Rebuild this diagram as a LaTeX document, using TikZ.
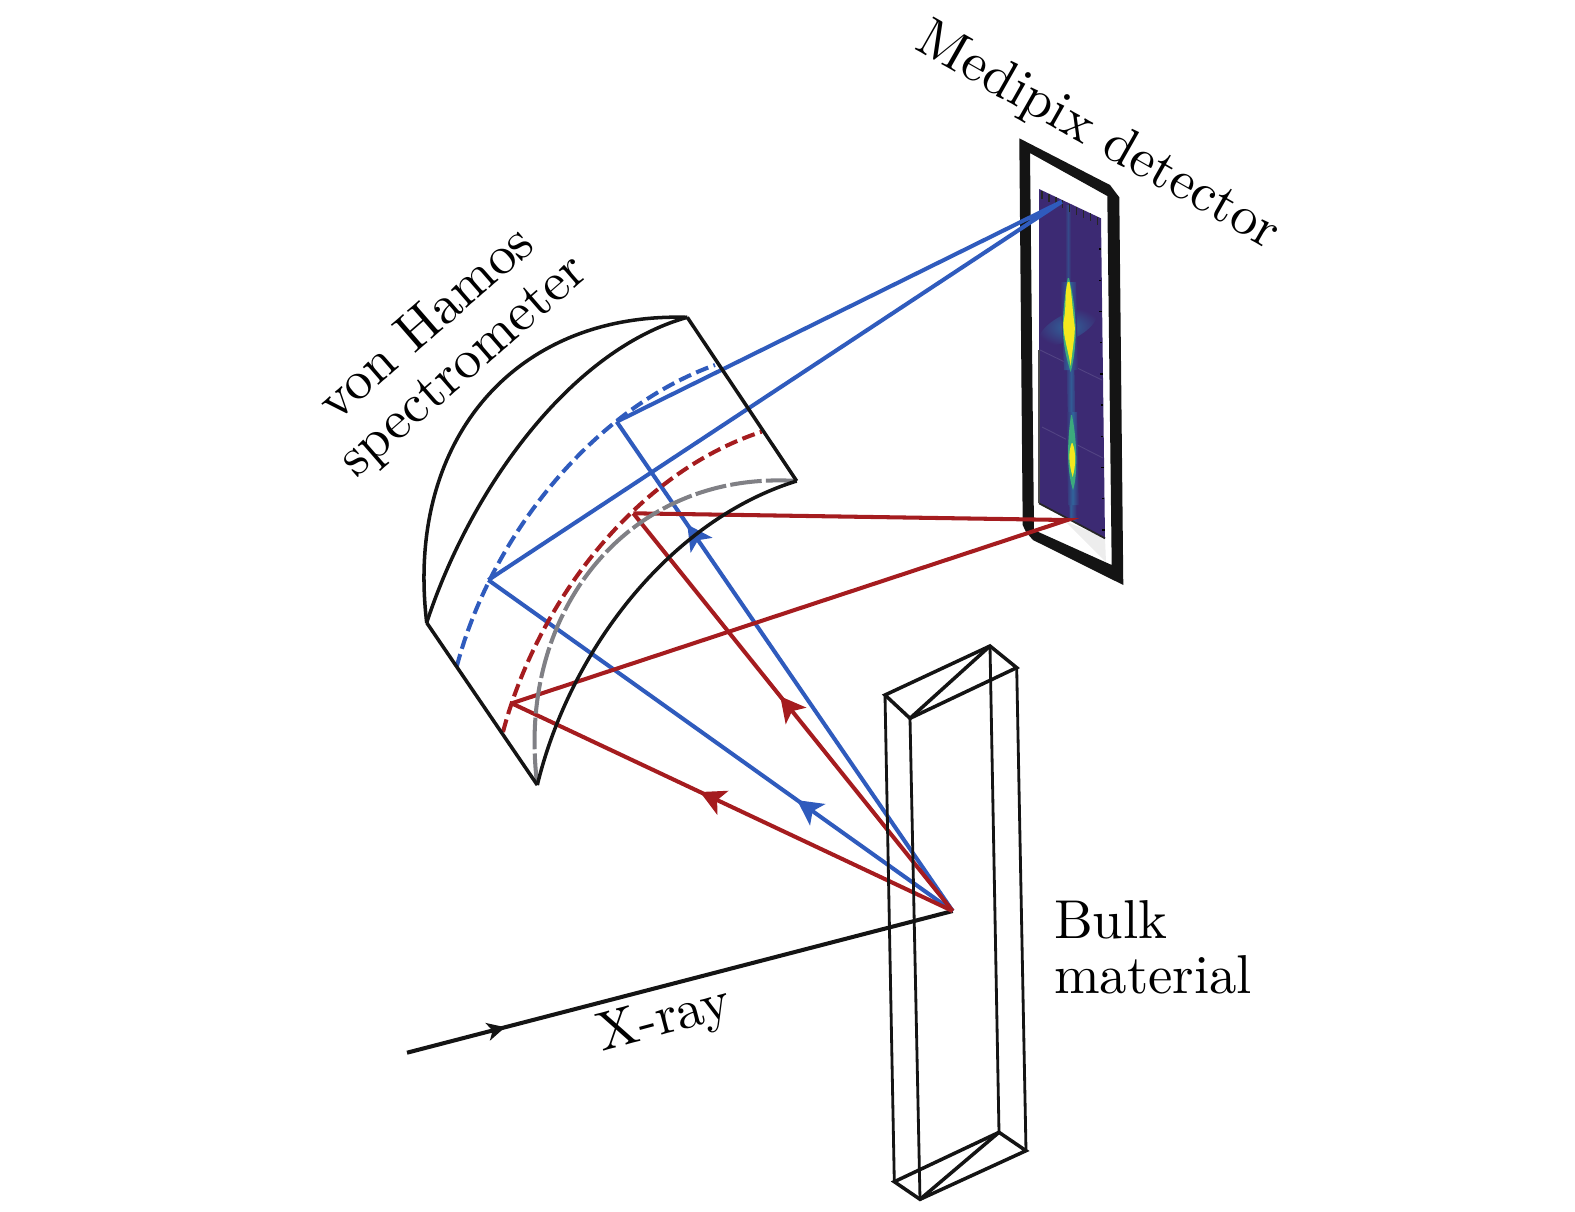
\documentclass[tikz,border=0pt]{standalone}
\usepackage{tikz}
\usepackage{xcolor}
\usetikzlibrary{arrows.meta,decorations.markings}
\definecolor{blue}{RGB}{47,91,189}
\definecolor{red}{RGB}{165,28,31}
\definecolor{gray}{RGB}{128,128,133}
\definecolor{purple}{RGB}{60,42,115}
\definecolor{halo}{RGB}{48,100,155}
\definecolor{glow}{RGB}{60,170,125}
\definecolor{yellow}{RGB}{245,232,30}
\tikzset{
  edge/.style={line width=1pt, black!92},
  thinedge/.style={line width=0.8pt, black!92},
  ray/.style={line width=1.15pt},
  midarrow/.style={postaction={decorate}, decoration={markings, mark=at position #1 with {\arrow{Stealth[length=2.5mm, width=2.6mm, inset=0.6mm]}}}},
  tinyarrow/.style={postaction={decorate}, decoration={markings, mark=at position #1 with {\arrow{Stealth[length=1.8mm, width=1.8mm, inset=0.5mm]}}}},
  label/.style={font=\fontsize{10}{10.1}\selectfont, scale=1.557, inner sep=0pt}
}
\begin{document}
\begin{tikzpicture}[x=0.01cm, y=-0.01cm]
\useasboundingbox (0,0) rectangle (1575,1211);
\coordinate (src) at (952.7,911);
\coordinate (xin) at (407,1052.7);
\coordinate (blueu) at (616.7,421.7);
\coordinate (bluel) at (488.3,580);
\coordinate (redu) at (633.3,513.3);
\coordinate (redl) at (511.7,703.3);
\coordinate (bluedet) at (1061.7,201.7);
\coordinate (reddet) at (1067.3,520);
\coordinate (sa) at (687.3,317.3);
\coordinate (sb) at (426.7,622.7);
\coordinate (sc) at (796.7,481);
\coordinate (sd) at (537.3,785);
\coordinate (ta) at (885,695);
\coordinate (tb) at (910,718.3);
\coordinate (tc) at (1016.7,667.7);
\coordinate (td) at (990,646);
\coordinate (ba) at (894.3,1181.7);
\coordinate (bb) at (920,1199.3);
\coordinate (bc) at (1026,1150.7);
\coordinate (bd) at (999,1132.3);

% detector
\fill[black!92, even odd rule] (1019.3,138.3) -- (1110,185) -- (1119.3,197.3) -- (1123.3,585) -- (1033,540) -- (1026,532) -- (1022.7,525) -- cycle
  (1030,153) -- (1107.3,196) -- (1111.7,565) -- (1034,530) -- cycle;
\fill[black!7] (1065,521) -- (1105,538) -- (1106,562) -- cycle;
\fill[purple] (1039,189) -- (1101,218.3) -- (1105,538.3) -- (1039,503.3) -- cycle;
\begin{scope}
\clip (1039,189) -- (1101,218.3) -- (1105,538.3) -- (1039,503.3) -- cycle;
\draw[purple!88!white, line width=0.25pt] (1040,350) -- (1102,380);
\draw[purple!88!white, line width=0.25pt] (1042,427) -- (1103,458);
\shade[inner color=halo, outer color=purple, rotate around={27:(1068,327)}] (1068,327) ellipse (0.32cm and 0.13cm);
\shade[left color=purple, right color=purple, middle color=halo!55!purple] (1065,205) -- (1071,205) -- (1071,282) -- (1065,282) -- cycle;
\shade[left color=purple, right color=purple, middle color=halo!85!purple] (1065,282) -- (1073,282) -- (1077,532) -- (1070,532) -- cycle;
\shade[left color=purple, right color=purple, middle color=halo] (1060,282) -- (1076,282) -- (1078,370) -- (1064,370) -- cycle;
\shade[left color=purple, right color=purple, middle color=halo] (1066,412) -- (1077,412) -- (1079,505) -- (1068,505) -- cycle;
\end{scope}
\draw[black!85, line width=0.5pt] (1039,503.3) -- (1105,538.3);
\draw[black!70, line width=0.5pt] (1039,503.3) -- (1039,350);
\foreach \i in {0,...,8} \draw[black!85, line width=0.4pt] ({1042+\i*6.9},{190.5+\i*3.25}) -- +(0,8);
\foreach \i in {0,...,9} \draw[black, line width=0.4pt] ({1101+\i*0.4},{249+\i*31.2}) -- +(-2.5,0);
\fill[glow] (1067.7,278) .. controls (1060,325) and (1062,345) .. (1070.7,372) .. controls (1078,345) and (1077,310) .. (1069,278) -- cycle;
\fill[glow] (1071,415) .. controls (1066,450) and (1068,475) .. (1073,490) .. controls (1078,475) and (1077,440) .. (1072,415) -- cycle;
\fill[yellow] (1067.7,282) .. controls (1064,295) and (1067,305) .. (1063.3,323) .. controls (1063,335) and (1068,350) .. (1070.7,366) .. controls (1073,345) and (1076,330) .. (1074.3,323) .. controls (1072,305) and (1072,295) .. (1069.5,282) -- cycle;
\fill[yellow] (1071.7,443) .. controls (1068,452) and (1069,465) .. (1072.7,477) .. controls (1076,465) and (1076,452) .. (1072.5,443) -- cycle;

% rays
\draw[ray, black!92, tinyarrow=0.18] (xin) -- (src);
\draw[ray, blue, midarrow=0.79] (src) -- (blueu);
\draw[ray, blue, midarrow=0.335] (src) -- (bluel);
\draw[ray, blue] (blueu) -- (bluedet) -- (bluel);
\draw[ray, red, midarrow=0.54] (src) -- (redu);
\draw[ray, red, midarrow=0.573] (src) -- (redl);
\draw[ray, red] (redu) -- (reddet) -- (redl);

% spectrometer
\draw[ray, blue, dash pattern=on 3.7pt off 1.6pt] (456.7,666.7) .. controls (490,540) and (590,410) .. (715,365);
\draw[ray, red, dash pattern=on 3.7pt off 1.6pt] (503,732) .. controls (535,610) and (630,475) .. (761.7,431.7);
\draw[ray, gray, dash pattern=on 9pt off 1.2pt] (sd) .. controls (515,610) and (630,470) .. (sc);
\draw[edge] (sb) .. controls (405,440) and (515,312) .. (sa);
\draw[edge] (sb) .. controls (470,490) and (570,350) .. (sa);
\draw[edge] (sd) .. controls (570,650) and (670,520) .. (sc);
\draw[edge] (sa) -- (sc);
\draw[edge] (sb) -- (sd);

% block
\draw[edge] (ta) -- (td) -- (tc) -- (tb) -- cycle;
\draw[edge] (tb) -- (td);
\draw[edge] (ba) -- (bd) -- (bc) -- (bb) -- cycle;
\draw[edge] (bb) -- (bd);
\draw[thinedge] (ta) -- (ba);
\draw[thinedge] (tb) -- (bb);
\draw[thinedge] (tc) -- (bc);
\draw[thinedge] (td) -- (bd);

\node[label, rotate=-29.6] (det) at (1098,137) {Medipix detector};
\node[label, rotate=41, align=center] (spec) at (446,346) {von Hamos\\spectrometer\hspace{0.3em}};
\node[label, align=left, anchor=north west] (bulk) at (1053,899) {Bulk\\material};
\node[label, rotate=15] (xray) at (665,1021) {X-ray};
\end{tikzpicture}
\end{document}
